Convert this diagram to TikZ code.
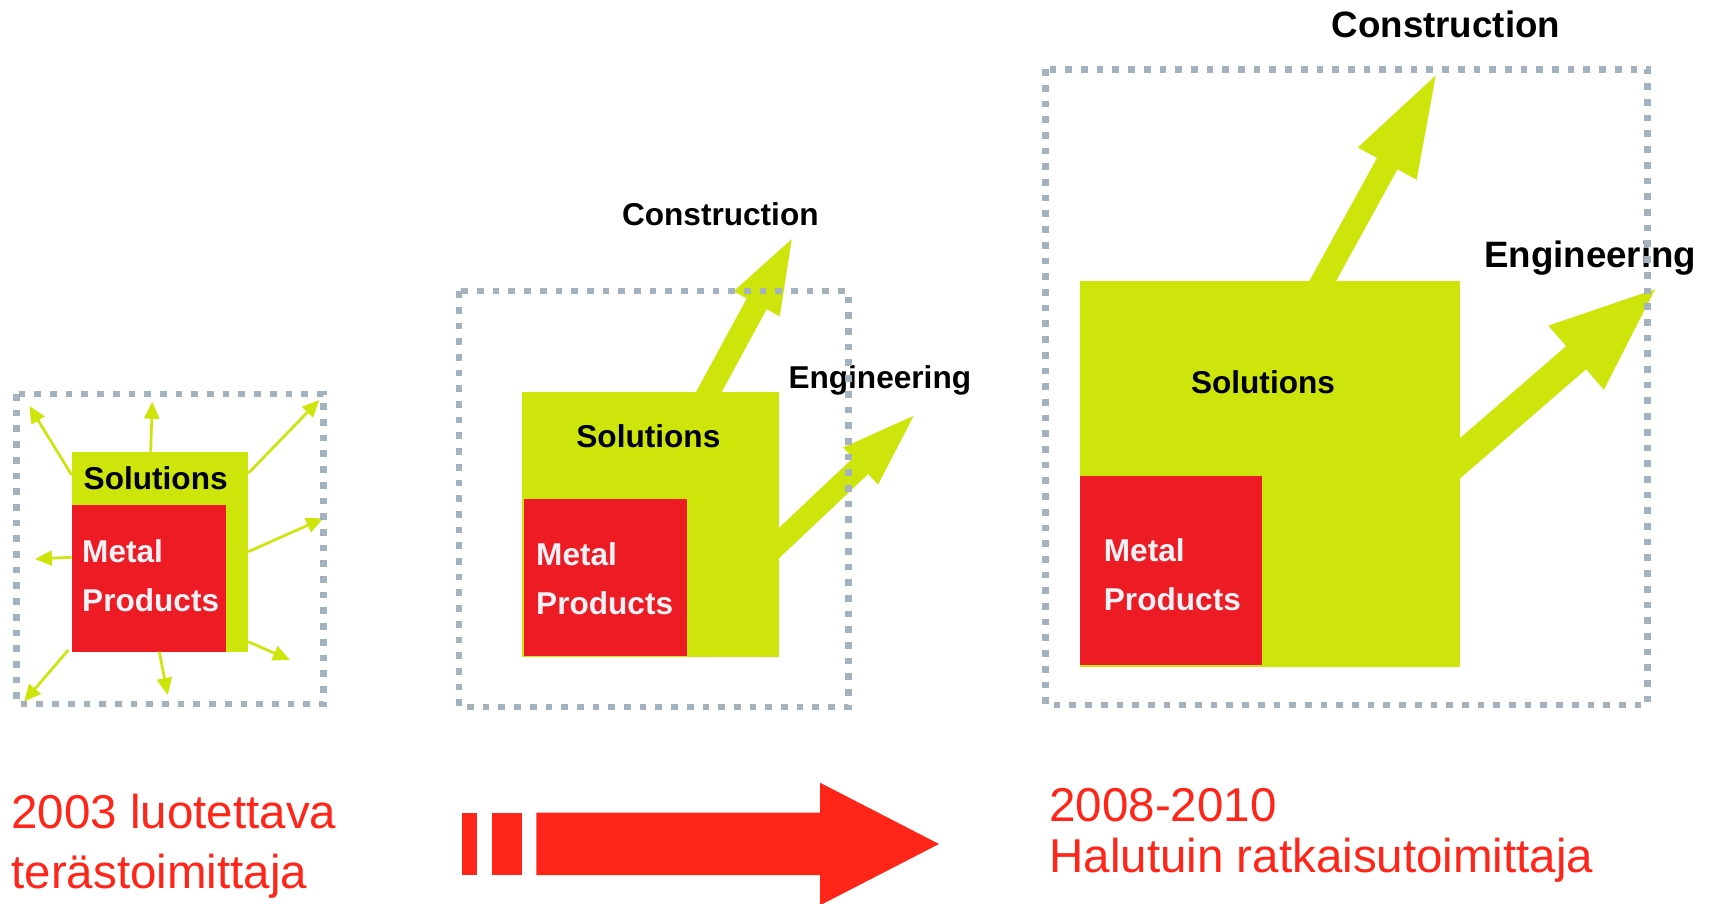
\documentclass[tikz,border=0pt]{standalone}
\usepackage{fontspec}
\setmainfont{Liberation Sans}
\usetikzlibrary{arrows.meta,positioning,calc}
\definecolor{solgreen}{RGB}{205,229,10}
\definecolor{metred}{RGB}{237,28,36}
\definecolor{yearred}{RGB}{255,38,25}
\definecolor{dotgrey}{RGB}{164,177,190}
\definecolor{mtwhite}{RGB}{242,242,246}
\begin{document}
\begin{tikzpicture}[x=1pt,y=-1pt,
  gbox/.style={inner sep=0pt,outer sep=0pt,anchor=north west},
  solbox/.style={gbox,fill=solgreen},
  metbox/.style={gbox,fill=metred},
  dotbox/.style={draw=dotgrey,line width=6.7pt,dash pattern=on 6.7pt off 9pt},
  lbl/.style={anchor=base west,inner sep=0pt,font=\fontsize{31.6}{38}\selectfont\bfseries},
  biglbl/.style={lbl,font=\fontsize{36.7}{44}\selectfont\bfseries},
  mtxt/.style={lbl,text=mtwhite},
  yeartxt/.style={anchor=base west,inner sep=0pt,text=yearred,font=\fontsize{47.5}{57}\selectfont},
  spoke/.style={draw=solgreen,line width=2.7pt,-{Triangle[length=17pt,width=15pt]}},
]
\useasboundingbox (0,0) rectangle (1709,904);
%
% boxes
\node[solbox,minimum width=176.6pt,minimum height=200pt] (sol1) at (71.7,451.7) {};
\node[metbox,minimum width=154.3pt,minimum height=146.7pt] (met1) at (71.7,505) {};
%
\node[solbox,minimum width=256.7pt,minimum height=264.8pt] (sol2) at (522.3,392.2) {};
\node[metbox,minimum width=163pt,minimum height=157.5pt] (met2) at (524,498.5) {};
%
\node[solbox,minimum width=380pt,minimum height=385.7pt] (sol3) at (1080,281) {};
\node[metbox,minimum width=182pt,minimum height=189pt] (met3) at (1080,476) {};
%
% small arrows, 2003
\coordinate (t1) at (29.3,406);
\coordinate (t2) at (152.3,401.7);
\coordinate (t3) at (319.3,400);
\coordinate (t4) at (323.3,518.3);
\coordinate (t5) at (35,559);
\coordinate (t6) at (290,660);
\coordinate (t7) at (167.7,695);
\coordinate (t8) at (24,701.7);
\draw[spoke] ($(sol1.north west)+(0,23.3)$) -- (t1);
\draw[spoke] ($(sol1.north west)+(79,0)$) -- (t2);
\draw[spoke] ($(sol1.north east)+(0,21.6)$) -- (t3);
\draw[spoke] (sol1.east) -- (t4);
\draw[spoke] ($(sol1.west)+(0,5.6)$) -- (t5);
\draw[spoke] ($(sol1.south east)+(0,-10)$) -- (t6);
\draw[spoke] ($(sol1.south west)+(87.6,0)$) -- (t7);
\draw[spoke] ($(sol1.south west)+(-3.4,-1.7)$) -- (t8);
%
% texts
\node[lbl] (sl1) at (83.5,489) {Solutions};
\node[mtxt] (mt1) at (82,562.7) {Metal};
\node[mtxt,below=49pt of mt1.base west,anchor=base west] (pr1) {Products};
%
\node[lbl] (sl2) at (576.2,447.6) {Solutions};
\node[mtxt] (mt2) at (536,565.3) {Metal};
\node[mtxt,below=49pt of mt2.base west,anchor=base west] (pr2) {Products};
\node[lbl] (con2) at (621.8,225.7) {Construction};
\node[lbl] (eng2) at (788.3,388.4) {Engineering};
%
\node[lbl] (sl3) at (1190.8,393.3) {Solutions};
\node[mtxt] (mt3) at (1103.7,561) {Metal};
\node[mtxt,below=49pt of mt3.base west,anchor=base west] (pr3) {Products};
\node[biglbl] (con3) at (1331.5,37.7) {Construction};
\node[biglbl] (eng3) at (1484,267.7) {Engineering};
%
% growth arrows
\coordinate (ct2) at (795.7,231.9);
\coordinate (et2) at (920.7,409.2);
\coordinate (ct3) at (1439.3,69);
\coordinate (et3) at (1660,285);
\draw[solgreen,line width=22.6pt,-{Triangle[length=81.8pt,width=44.8pt]}] ($(sol2.north west)+(179.3,13.2)$) -- (ct2);
\draw[solgreen,line width=22.1pt,-{Triangle[length=82.7pt,width=43pt]}] ($(sol2.north east)+(-10.9,161.2)$) -- (et2);
\draw[solgreen,line width=23.4pt,-{Triangle[length=108pt,width=59pt]}] ($(sol3.north west)+(235.5,13.1)$) -- (ct3);
\draw[solgreen,line width=30.5pt,-{Triangle[length=111pt,width=75pt]}] ($(sol3.north east)+(-11.3,187.1)$) -- (et3);
%
% dotted frames
\draw[dotbox] (16.7,394) rectangle (323.3,704);
\draw[dotbox] (459,291.1) rectangle (848.3,707);
\draw[dotbox] (1045.8,69.2) rectangle (1647.7,705);
%
% years and the red arrow
\node[yeartxt] (y1) at (11.3,828.3) {2003 luotettava};
\node[yeartxt,below=60pt of y1.base west,anchor=base west] (y1b) {terästoimittaja};
\node[yeartxt] (y2) at (1049.3,821) {2008-2010};
\node[yeartxt,below=51.7pt of y2.base west,anchor=base west] (y2b) {Halutuin ratkaisutoimittaja};
%
\fill[yearred] (462,812.7) rectangle (477,875);
\fill[yearred] (492,812.7) rectangle (522,875);
\fill[yearred] (536.3,812.7) -- (820,812.7) -- (820,782.7) -- (939,844)
  -- (820,905.3) -- (820,875) -- (536.3,875) -- cycle;
\end{tikzpicture}
\end{document}
